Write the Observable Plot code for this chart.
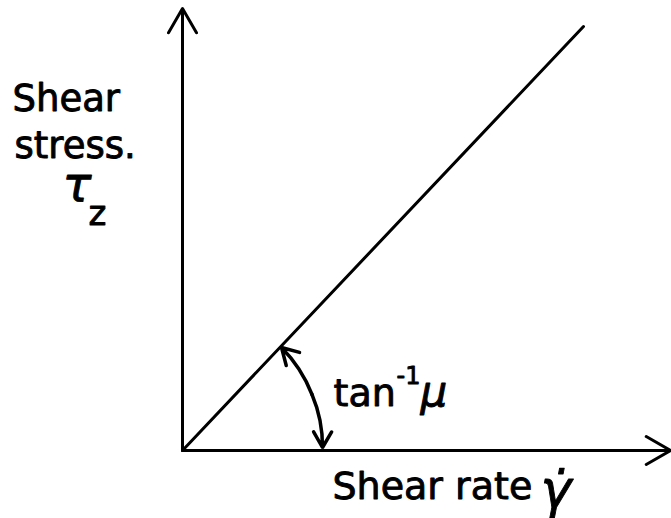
<!DOCTYPE html>
<html><head><meta charset="utf-8">
<script src="https://cdn.jsdelivr.net/npm/d3@7"></script>
<script src="https://cdn.jsdelivr.net/npm/@observablehq/plot@0.6"></script>
<style>body{margin:0;background:#fff}</style>
</head><body><div id="chart"></div>
<script>
// Axis arrows (schematic units: origin at the corner)
const axisArrows = [
  {x1: 0, y1: 0, x2: 0, y2: 442},
  {x1: 0, y1: 0, x2: 488, y2: 0}
];
// Newtonian response: shear stress proportional to shear rate
const responseLine = [{x: 0, y: 0}, {x: 401, y: 424}];
// Angle marker (double-headed arc between x-axis and line)
const angleArc = [
  {x1: 129.5, y1: 56, x2: 140, y2: 3, bend: 11.7},
  {x1: 129.5, y1: 56, x2: 99, y2: 103, bend: -11.7}
];
// Labels
const labelText = ["Shear", "stress.", "τ", "z", "tan", "-1", "μ", "Shear rate", "γ̇"];
const labelX =    [-170, -168, -120, -94, 151, 214, 238, 150, 358];
const labelY =    [340, 293, 250, 226, 45, 67, 45, -48, -56];
const labelSize = [37, 37, 48, 34, 38, 24, 42, 38, 52];
const labelStyle = ["normal","normal","italic","normal","normal","normal","italic","normal","italic"];
const labels = labelText.map((t, i) => ({text: t, x: labelX[i], y: labelY[i], size: labelSize[i], style: labelStyle[i]}));

const textMarks = labels.map(d => Plot.text([d], {
  x: "x", y: "y", text: "text", textAnchor: "start", lineAnchor: "bottom",
  fontSize: d.size, fontStyle: d.style, fill: "black", stroke: "black", strokeWidth: 0.9,
  fontFamily: "DejaVu Sans"
}));

const chart = Plot.plot({
  width: 671, height: 518,
  marginTop: 0, marginRight: 0, marginBottom: 0, marginLeft: 0,
  x: {domain: [-182, 489], range: [0, 671], axis: null},
  y: {domain: [-68, 450], range: [518, 0], axis: null},
  style: {background: "white", fontFamily: "DejaVu Sans"},
  marks: [
    Plot.arrow(axisArrows, {x1: "x1", y1: "y1", x2: "x2", y2: "y2", stroke: "black", strokeWidth: 3, headLength: 14, headAngle: 60}),
    Plot.line(responseLine, {x: "x", y: "y", stroke: "black", strokeWidth: 3}),
    ...angleArc.map(d => Plot.arrow([d], {x1: "x1", y1: "y1", x2: "x2", y2: "y2", bend: d.bend, stroke: "black", strokeWidth: 3.5, headLength: 12, headAngle: 60})),
    ...textMarks
  ]
});
document.getElementById("chart").appendChild(chart);
</script>
</body></html>
